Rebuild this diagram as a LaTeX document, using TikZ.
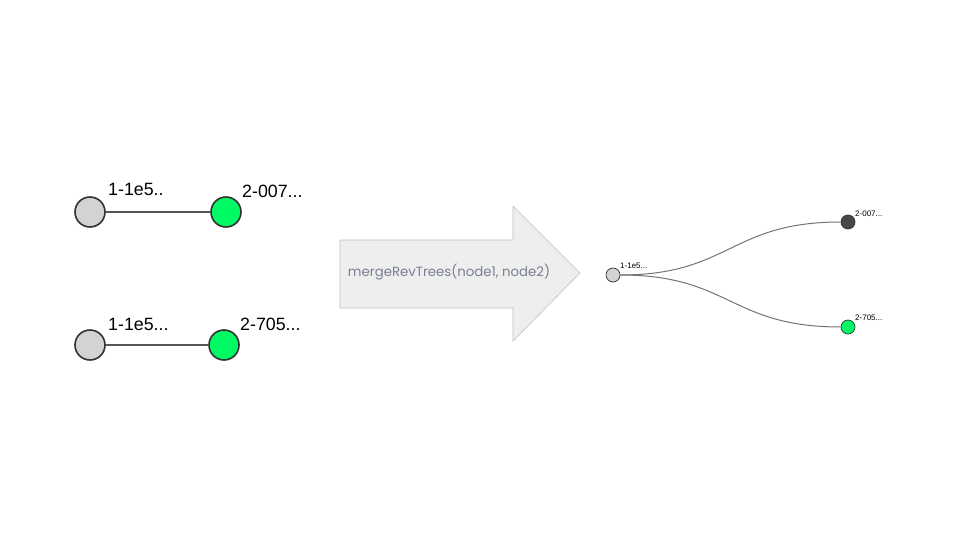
\documentclass[tikz,border=0pt]{standalone}
\usepackage{fontspec}
\setmainfont{Liberation Sans}
\newfontfamily\arrowfont{Poppins}
\definecolor{nodegreen}{RGB}{0,250,100}
\definecolor{nodegray}{RGB}{211,211,211}
\definecolor{nodedark}{RGB}{72,72,72}
\definecolor{edgecol}{RGB}{85,85,85}
\definecolor{arrowfill}{RGB}{238,238,238}
\definecolor{arrowline}{RGB}{190,190,190}
\definecolor{arrowtext}{RGB}{120,128,145}
\begin{document}
\begin{tikzpicture}[x=1pt,y=-1pt,
  bignode/.style={circle,draw=black!80,line width=1.6pt,minimum size=30pt,inner sep=0pt},
  smallnode/.style={circle,draw=black!80,line width=0.7pt,minimum size=14pt,inner sep=0pt},
  biglabel/.style={font=\fontsize{17.8}{20}\selectfont,anchor=base west,inner sep=0pt},
  smalllabel/.style={font=\fontsize{8}{9}\selectfont,anchor=base west,inner sep=0pt},
  bigedge/.style={draw=edgecol,line width=1.8pt},
  smalledge/.style={draw=black!55,line width=1pt}]
\useasboundingbox (0,0) rectangle (960,540);
% left trees
\node[bignode,fill=nodegray] (a1) at (90,212) {};
\node[bignode,fill=nodegreen] (b1) at (226,212) {};
\draw[bigedge] (a1) -- (b1);
\node[biglabel] (la1) at (108,195) {1-1e5..};
\node[biglabel] (lb1) at (242,197) {2-007...};
\node[bignode,fill=nodegray] (a2) at (90,345) {};
\node[bignode,fill=nodegreen] (b2) at (224,345) {};
\draw[bigedge] (a2) -- (b2);
\node[biglabel] (la2) at (108,330) {1-1e5...};
\node[biglabel] (lb2) at (240,330) {2-705...};
% arrow
\draw[fill=arrowfill,draw=arrowline,line width=0.6pt]
  (340,240) -- (513,240) -- (513,206) -- (580,273) -- (513,341) -- (513,308) -- (340,308) -- cycle;
\node[font=\arrowfont\fontsize{13.3}{15}\selectfont,text=arrowtext] (t) at (449,272) {mergeRevTrees(node1, node2)};
% merged tree
\node[smallnode,fill=nodegray] (r) at (613,275) {};
\node[smallnode,fill=nodedark] (c1) at (848,222) {};
\node[smallnode,fill=nodegreen] (c2) at (848,327) {};
\draw[smalledge] (r.east) .. controls (730,275) and (730,222) .. (c1.west);
\draw[smalledge] (r.east) .. controls (730,275) and (730,327) .. (c2.west);
\node[smalllabel] (lr) at (620,268) {1-1e5...};
\node[smalllabel] (lc1) at (855,216) {2-007...};
\node[smalllabel] (lc2) at (855,320) {2-705...};
\end{tikzpicture}
\end{document}
